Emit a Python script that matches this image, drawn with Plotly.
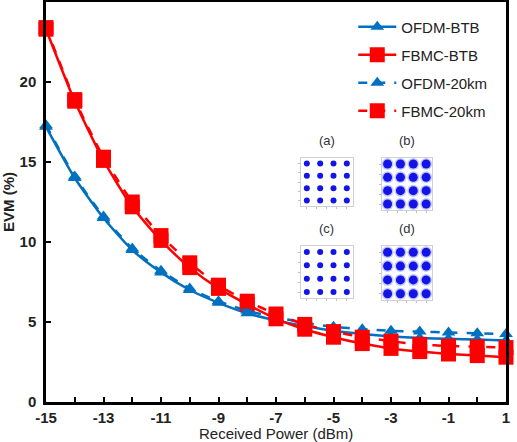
import plotly.graph_objects as go

# ---------------- data ----------------
power = [-15, -14, -13, -12, -11, -10, -9, -8, -7, -6, -5, -4, -3, -2, -1, 0, 1]
ofdm_btb = [17.2, 14.0, 11.5, 9.5, 8.1, 7.0, 6.2, 5.55, 5.1, 4.75, 4.45, 4.25, 4.1, 4.0, 3.95, 3.9, 3.85]
fbmc_btb = [23.3, 18.8, 15.1, 12.2, 10.1, 8.4, 7.1, 6.1, 5.2, 4.55, 4.05, 3.65, 3.35, 3.15, 3.0, 2.9, 2.8]
ofdm_20km = [17.3, 14.1, 11.6, 9.6, 8.2, 7.1, 6.3, 5.7, 5.3, 4.95, 4.7, 4.55, 4.45, 4.4, 4.35, 4.3, 4.25]
fbmc_20km = [23.4, 18.9, 15.3, 12.5, 10.4, 8.7, 7.3, 6.3, 5.5, 4.85, 4.4, 4.05, 3.8, 3.6, 3.5, 3.45, 3.4]

x_tickvals = list(range(-15, 2))
x_ticktext = [str(v) if v % 2 != 0 else "" for v in x_tickvals]
y_tickvals = [0, 5, 10, 15, 20, 25]
x_title = "Received Power (dBm)"
y_title = "EVM (%)"

# 16-QAM constellation levels for the inset scatter plots
qam_levels = [-3, -1, 1, 3]
inset_labels = ["(a)", "(b)", "(c)", "(d)"]
inset_blob_size = [6, 9, 6, 9]

BLUE = "#0070C0"
RED = "#FF0000"

fig = go.Figure()

series = [
    ("OFDM-BTB", ofdm_btb, BLUE, "triangle-up", 12, "solid"),
    ("FBMC-BTB", fbmc_btb, RED, "square", 15, "solid"),
    ("OFDM-20km", ofdm_20km, BLUE, "triangle-up", 12, "dash"),
    ("FBMC-20km", fbmc_20km, RED, "square", 15, "dash"),
]
legend_names = ["legend", "legend2", "legend3", "legend4"]
legend_rows_y = [0.9375, 0.8675, 0.7975, 0.7275]
for i, (name, vals, col, sym, sz, dash) in enumerate(series):
    fig.add_trace(go.Scatter(
        x=power, y=vals, name=name, mode="lines+markers",
        line=dict(color=col, width=2.5, dash=dash, shape="spline", smoothing=0.6),
        marker=dict(symbol=sym, size=sz, color=col),
        cliponaxis=False, legend=legend_names[i],
    ))

# inset constellation diagrams
inset_dom_x = [[0.554, 0.667], [0.730, 0.839], [0.554, 0.667], [0.730, 0.839]]
inset_dom_y = [[0.49, 0.61], [0.48, 0.61], [0.26, 0.39], [0.255, 0.39]]
qx = [a for b in qam_levels for a in qam_levels]
qy = [b for b in qam_levels for a in qam_levels]
for k in range(4):
    ax = k + 2
    if inset_blob_size[k] > 7:
        fig.add_trace(go.Scatter(
            x=qx, y=qy, mode="markers", showlegend=False, hoverinfo="skip",
            marker=dict(size=inset_blob_size[k] + 3, color="rgba(60,80,255,0.3)"),
            xaxis=f"x{ax}", yaxis=f"y{ax}"))
    fig.add_trace(go.Scatter(
        x=qx, y=qy, mode="markers", showlegend=False, hoverinfo="skip",
        marker=dict(size=inset_blob_size[k], color="#1414E6"),
        xaxis=f"x{ax}", yaxis=f"y{ax}"))
    inset_ax = dict(range=[-3.9, 3.9], showgrid=False, zeroline=False, showticklabels=False,
                    showline=True, mirror=True, linecolor="#d0d0d0", linewidth=1,
                    ticks="outside", ticklen=2, tickcolor="#c0c0c0", tickvals=[-3, -1.5, 0, 1.5, 3],
                    automargin=False)
    fig.update_layout(**{
        f"xaxis{ax}": dict(inset_ax, domain=inset_dom_x[k], anchor=f"y{ax}"),
        f"yaxis{ax}": dict(inset_ax, domain=inset_dom_y[k], anchor=f"x{ax}"),
    })
    fig.add_annotation(text=inset_labels[k], xref="paper", yref="paper",
                       x=sum(inset_dom_x[k]) / 2, y=inset_dom_y[k][1] + 0.02,
                       xanchor="center", yanchor="bottom", showarrow=False,
                       font=dict(size=13, color="#333333"))

# x axis title (placed at the bottom edge like the reference)
fig.add_annotation(text=x_title, xref="paper", yref="paper", x=0.5, y=-0.078,
                   xanchor="center", yanchor="middle", showarrow=False,
                   font=dict(size=15, color="#222222"))

legend_style = dict(x=0.668, xanchor="left", yanchor="middle",
                    font=dict(size=15, color="#222222"), itemwidth=38,
                    bgcolor="rgba(0,0,0,0)")
fig.update_layout(**{ln: dict(legend_style, y=legend_rows_y[i]) for i, ln in enumerate(legend_names)})

fig.update_layout(
    width=517, height=442,
    margin=dict(l=46, r=11, t=2, b=40),
    paper_bgcolor="white", plot_bgcolor="white",
    font=dict(family="Liberation Sans, Arial", color="#222222"),
    showlegend=True,
    xaxis=dict(range=[-15, 1], tickvals=x_tickvals, ticktext=x_ticktext,
               ticks="inside", ticklen=5, tickwidth=2, tickcolor="black",
               showline=True, linecolor="black", linewidth=2.5, mirror=True,
               showgrid=False, zeroline=False, ticklabelstandoff=0, automargin=False,
               tickfont=dict(size=15, weight="bold", color="#222222")),
    yaxis=dict(range=[0, 25], tickvals=y_tickvals,
               ticks="inside", ticklen=5, tickwidth=2, tickcolor="black",
               showline=True, linecolor="black", linewidth=2.5, mirror=True,
               showgrid=False, zeroline=False, ticklabelstandoff=4, automargin=False,
               tickfont=dict(size=15, weight="bold", color="#222222"),
               title=dict(text=f"<b>{y_title}</b>", font=dict(size=15), standoff=8)),
)

fig.write_html("out.html")
